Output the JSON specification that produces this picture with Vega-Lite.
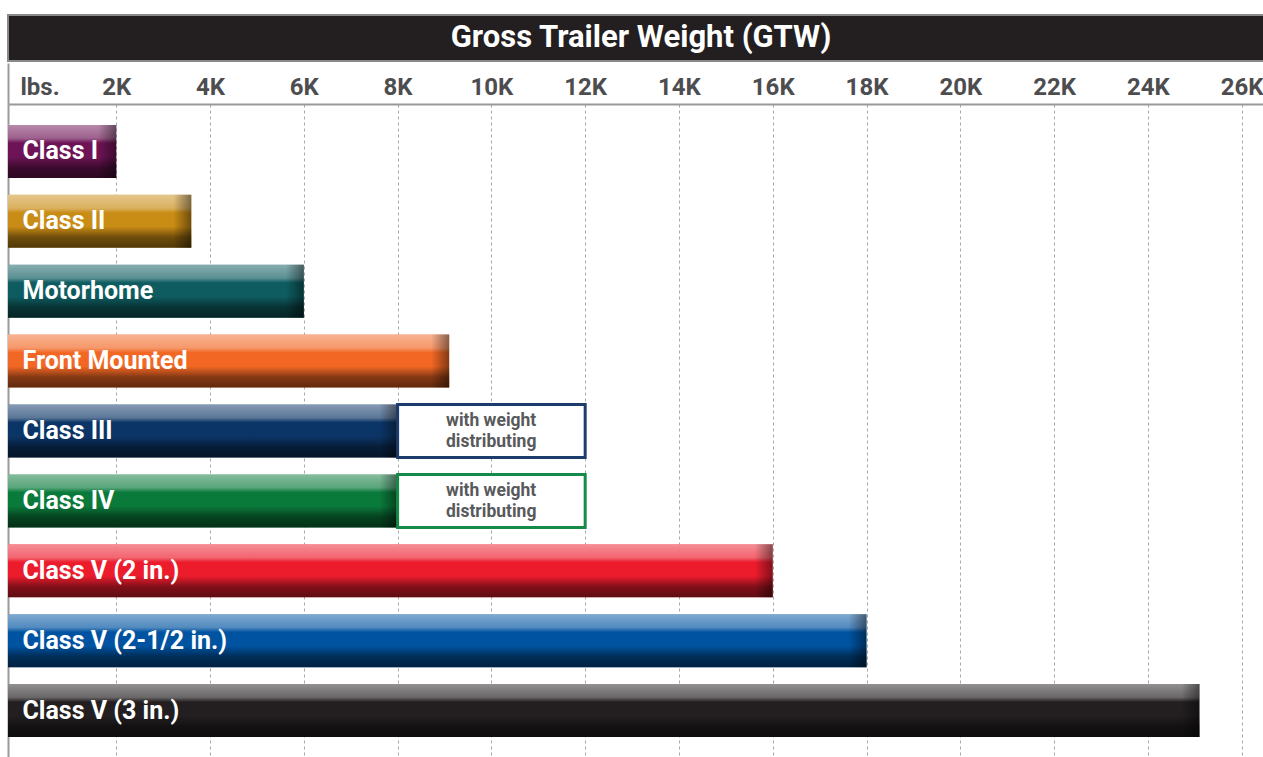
{
  "$schema": "https://vega.github.io/schema/vega-lite/v6.json",
  "padding": {"left": 7, "top": 14, "right": 0, "bottom": 0},
  "background": "white",
  "spacing": 0,
  "config": {"view": {"stroke": null}},
  "datasets": {
    "heading": [{"t": "Gross Trailer Weight (GTW)"}],
    "hitches": [
      {"cls": "Class I", "gtw": 2000},
      {"cls": "Class II", "gtw": 3600},
      {"cls": "Motorhome", "gtw": 6000},
      {"cls": "Front Mounted", "gtw": 9100},
      {"cls": "Class III", "gtw": 8000, "wd": 12000},
      {"cls": "Class IV", "gtw": 8000, "wd": 12000},
      {"cls": "Class V (2 in.)", "gtw": 16000},
      {"cls": "Class V (2-1/2 in.)", "gtw": 18000},
      {"cls": "Class V (3 in.)", "gtw": 25100}
    ]
  },
  "vconcat": [
    {
      "width": 1256,
      "height": 46,
      "data": {"name": "heading"},
      "view": {"fill": "#231f20", "stroke": "#8a8a8a", "strokeWidth": 2},
      "mark": {"type": "text", "color": "white", "font": "Roboto", "fontSize": 31, "fontWeight": "bold", "baseline": "middle", "dx": 5},
      "encoding": {"text": {"field": "t"}}
    },
    {
      "width": 1256,
      "height": 654,
      "data": {"name": "hitches"},
      "encoding": {
        "y": {"field": "cls", "type": "nominal", "sort": null, "scale": {"paddingInner": 0.2415, "paddingOuter": 0.3}, "axis": null}
      },
      "layer": [
        {
          "mark": {"type": "bar"},
          "encoding": {
            "x": {
              "field": "gtw", "type": "quantitative",
              "scale": {"domain": [-309, 26477], "nice": false, "zero": false},
              "axis": {
                "orient": "top",
                "title": null,
                "values": [-309, 2000, 4000, 6000, 8000, 10000, 12000, 14000, 16000, 18000, 20000, 22000, 24000, 26000],
                "labelExpr": "datum.value < 0 ? 'lbs.' : (datum.value / 1000) + 'K'",
                "labelFont": "Roboto",
                "labelFontSize": 24,
                "labelFontWeight": "bold",
                "labelColor": "#4d4d4f",
                "labelBaseline": "alphabetic",
                "labelAlign": {"condition": {"test": "datum.value < 0", "value": "left"}, "value": "center"},
                "labelOffset": {"condition": {"test": "datum.value < 0", "value": 12}, "value": 0},
                "labelPadding": -31,
                "labelOverlap": false,
                "labelFlush": false,
                "labelBound": false,
                "ticks": true,
                "tickSize": 41,
                "tickWidth": 2,
                "tickColor": {"condition": {"test": "datum.value < 0", "value": "#9a9a9a"}, "value": "transparent"},
                "grid": true,
                "gridColor": {"condition": {"test": "datum.value < 0", "value": "#9a9a9a"}, "value": "#a9a9a9"},
                "gridWidth": {"condition": {"test": "datum.value < 0", "value": 2}, "value": 1},
                "gridDash": {"condition": {"test": "datum.value < 0", "value": []}, "value": [3, 3]},
                "domain": true,
                "domainColor": "#9a9a9a",
                "domainWidth": 2,
                "minExtent": 40,
                "maxExtent": 40
              }
            },
            "x2": {"datum": -309},
            "color": {
              "field": "cls", "type": "nominal", "legend": null,
              "scale": {
                "domain": ["Class I", "Class II", "Motorhome", "Front Mounted", "Class III", "Class IV", "Class V (2 in.)", "Class V (2-1/2 in.)", "Class V (3 in.)"],
                "range": ["#6e1456", "#c98c15", "#0e5c60", "#f26724", "#0c3567", "#0a7a3b", "#ec1c2d", "#0053a1", "#231f20"]
              }
            }
          }
        },
        {
          "mark": {
            "type": "bar",
            "fill": {
              "gradient": "linear", "x1": 0, "y1": 0, "x2": 0, "y2": 1,
              "stops": [
                {"offset": 0, "color": "rgba(255,255,255,0.5)"},
                {"offset": 0.25, "color": "rgba(255,255,255,0.32)"},
                {"offset": 0.34, "color": "rgba(255,255,255,0)"},
                {"offset": 0.6, "color": "rgba(0,0,0,0)"},
                {"offset": 0.8, "color": "rgba(0,0,0,0.45)"},
                {"offset": 1, "color": "rgba(0,0,0,0.6)"}
              ]
            }
          },
          "encoding": {
            "x": {"field": "gtw", "type": "quantitative", "axis": {"orient": "top", "title": null}},
            "x2": {"datum": -309}
          }
        },
        {
          "mark": {
            "type": "bar",
            "xOffset": -18,
            "fill": {
              "gradient": "linear", "x1": 0, "y1": 0, "x2": 1, "y2": 0,
              "stops": [
                {"offset": 0, "color": "rgba(0,0,0,0)"},
                {"offset": 1, "color": "rgba(0,0,0,0.45)"}
              ]
            }
          },
          "encoding": {
            "x": {"field": "gtw", "type": "quantitative", "axis": {"orient": "top", "title": null}},
            "x2": {"field": "gtw"}
          }
        },
        {
          "transform": [{"filter": "isValid(datum.wd)"}],
          "mark": {"type": "bar", "fill": "white", "strokeWidth": 3},
          "encoding": {
            "x": {"field": "gtw", "type": "quantitative", "axis": {"orient": "top", "title": null}},
            "x2": {"field": "wd"},
            "stroke": {
              "field": "cls", "type": "nominal", "legend": null,
              "scale": {"domain": ["Class III", "Class IV"], "range": ["#1b3c6c", "#168a48"]}
            }
          }
        },
        {
          "transform": [{"filter": "isValid(datum.wd)"}],
          "mark": {"type": "text", "align": "center", "baseline": "middle", "dx": -94, "dy": -10, "font": "Roboto", "fontSize": 17.5, "fontWeight": "bold", "color": "#58595b", "lineHeight": 21},
          "encoding": {
            "x": {"field": "wd", "type": "quantitative", "axis": {"orient": "top", "title": null}},
            "text": {"value": ["with weight", "distributing"]}
          }
        },
        {
          "mark": {"type": "text", "align": "left", "baseline": "middle", "font": "Roboto", "fontSize": 25, "fontWeight": "bold", "color": "white"},
          "encoding": {
            "x": {"datum": 0, "type": "quantitative", "axis": {"orient": "top", "title": null}},
            "text": {"field": "cls"}
          }
        }
      ]
    }
  ]
}
